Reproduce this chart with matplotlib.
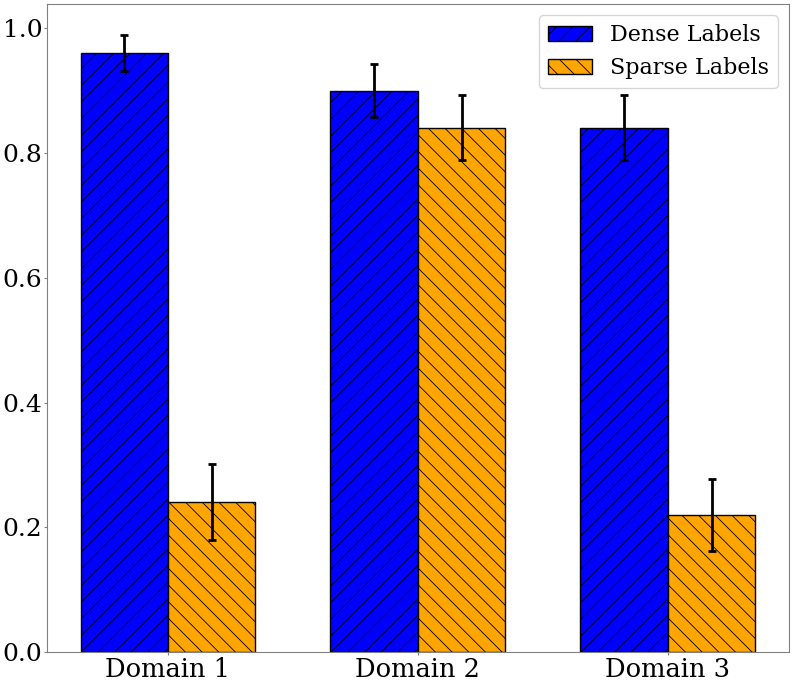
import matplotlib
matplotlib.use("Agg")
import matplotlib.pyplot as plt
import numpy as np

plt.rcParams['font.family'] = 'DejaVu Serif'
plt.rcParams['hatch.linewidth'] = 0.6

domains = ["Domain 1", "Domain 2", "Domain 3"]
dense = [0.96, 0.90, 0.84]
dense_err = [0.029, 0.043, 0.052]
sparse = [0.24, 0.84, 0.22]
sparse_err = [0.061, 0.052, 0.058]

x = np.arange(len(domains))
w = 0.35

fig, ax = plt.subplots(figsize=(7.93, 6.85), dpi=100)
ax.bar(x - w / 2, dense, w, yerr=dense_err, capsize=3, color='blue', edgecolor='black',
       hatch='//', label='Dense Labels', error_kw=dict(elinewidth=2, capthick=2))
ax.bar(x + w / 2, sparse, w, yerr=sparse_err, capsize=3, color='orange', edgecolor='black',
       hatch='\\\\', label='Sparse Labels', error_kw=dict(elinewidth=2, capthick=2))

ax.set_xticks(x)
ax.set_xticklabels(domains, fontsize=18.5)
ax.tick_params(axis='y', labelsize=18)
for s in ax.spines.values():
    s.set_color('gray')
ax.tick_params(color='gray', length=2.5, pad=0.8)
ax.legend(fontsize=16, loc='upper right')

plt.subplots_adjust(left=0.059, right=0.995, top=0.994, bottom=0.048)
plt.savefig("out.png")
